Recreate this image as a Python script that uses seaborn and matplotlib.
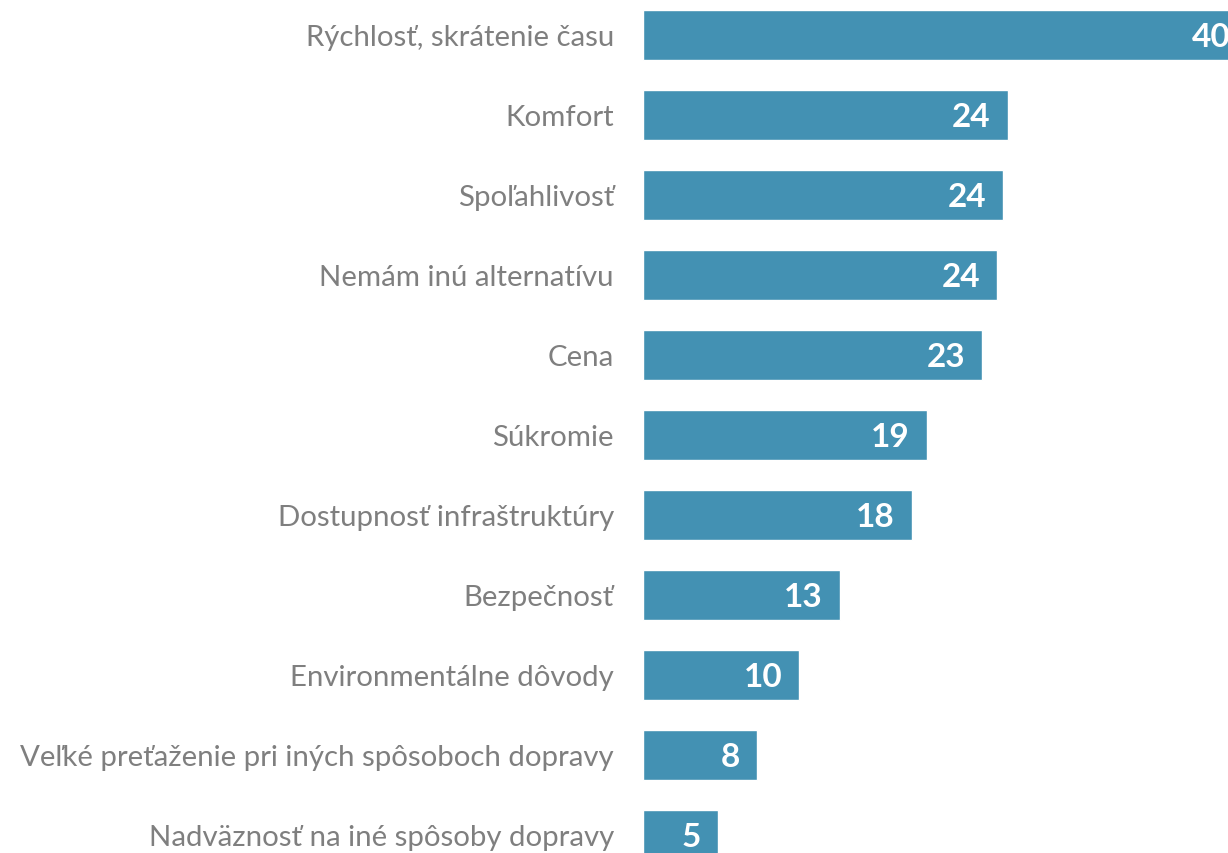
import matplotlib
matplotlib.use("Agg")
import matplotlib.pyplot as plt
import pandas as pd
import seaborn as sns

categories = [
    "Rýchlosť, skrátenie času",
    "Komfort",
    "Spoľahlivosť",
    "Nemám inú alternatívu",
    "Cena",
    "Súkromie",
    "Dostupnosť infraštruktúry",
    "Bezpečnosť",
    "Environmentálne dôvody",
    "Veľké preťaženie pri iných spôsoboch dopravy",
    "Nadväznosť na iné spôsoby dopravy",
]
values = [40.3, 24.3, 24.0, 23.6, 22.6, 18.9, 17.9, 13.1, 10.4, 7.6, 5.0]
value_labels = ["40", "24", "24", "24", "23", "19", "18", "13", "10", "8", "5"]

bar_color = "#4391b3"
text_gray = "#7f7f7f"

df = pd.DataFrame({"reason": categories, "share": values})

sns.set_theme(style="white")
plt.rcParams["font.family"] = ["Lato", "DejaVu Sans"]

fig = plt.figure(figsize=(12.28, 8.54), dpi=100)
ax = fig.add_axes([643 / 1228, 0, 1 - 643 / 1228, 1])

sns.barplot(data=df, x="share", y="reason", color=bar_color, saturation=1,
            width=0.625, orient="h", ax=ax)

ax.set_xlim(0, 39)
ax.set_ylim(10.23, -0.444)
ax.set_xlabel("")
ax.set_ylabel("")
ax.set_xticks([])
sns.despine(ax=ax, left=True, bottom=True, top=True, right=True)
ax.tick_params(axis="y", length=0, pad=21, labelsize=21.2, labelcolor=text_gray)

for bar, lab in zip(ax.patches, value_labels):
    ax.annotate(lab, (bar.get_width(), bar.get_y() + bar.get_height() / 2),
                xytext=(-12, -1.5), textcoords="offset points",
                ha="right", va="center", color="white",
                fontsize=24, fontweight="bold", annotation_clip=False)

fig.savefig("out.png", dpi=100)
